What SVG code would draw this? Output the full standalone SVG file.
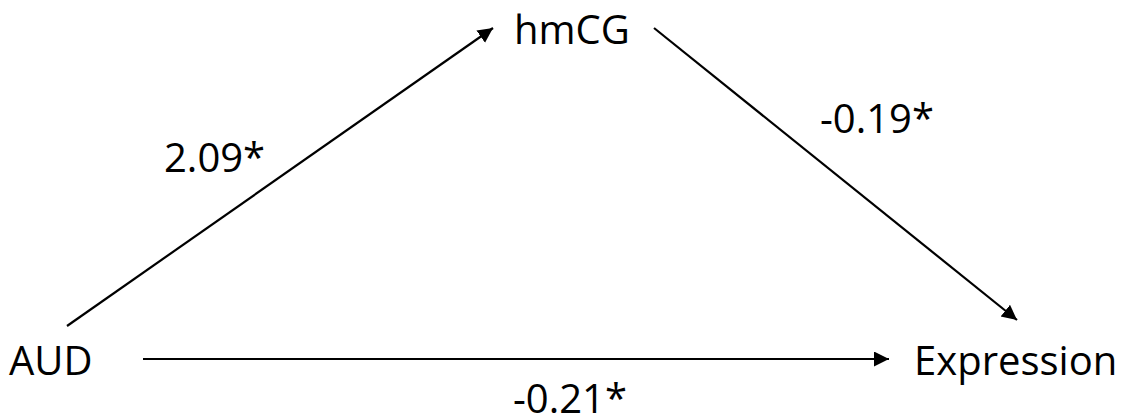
<svg xmlns="http://www.w3.org/2000/svg" width="1124" height="420" viewBox="0 0 1124 420">
  <style>
    .lbl { font-family: "Open Sans", "Liberation Sans", sans-serif; font-size: 40px; fill: #000; }
    .edge { stroke: #000; stroke-width: 2.2; fill: none; marker-end: url(#arrow); }
  </style>
  <defs>
    <marker id="arrow" markerUnits="userSpaceOnUse" markerWidth="16" markerHeight="16" refX="15" refY="7.5" orient="auto">
      <path d="M0,0 L15,7.5 L0,15 Z" fill="#000"/>
    </marker>
  </defs>
  <rect width="1124" height="420" fill="#fff"/>
  <g id="connectors">
    <line class="edge" x1="67" y1="326" x2="493" y2="28"/>
    <line class="edge" x1="654" y1="28" x2="1017" y2="320"/>
    <line class="edge" x1="143" y1="359" x2="889" y2="359" stroke-width="2.6"/>
    <text class="lbl" x="164" y="172">2.09*</text>
    <text class="lbl" x="820" y="133">-0.19*</text>
    <text class="lbl" x="513" y="413">-0.21*</text>
  </g>
  <g id="node-hmCG"><text class="lbl" x="514" y="44">hmCG</text></g>
  <g id="node-AUD"><text class="lbl" x="9" y="375">AUD</text></g>
  <g id="node-Expression"><text class="lbl" x="914" y="375">Expression</text></g>
</svg>
